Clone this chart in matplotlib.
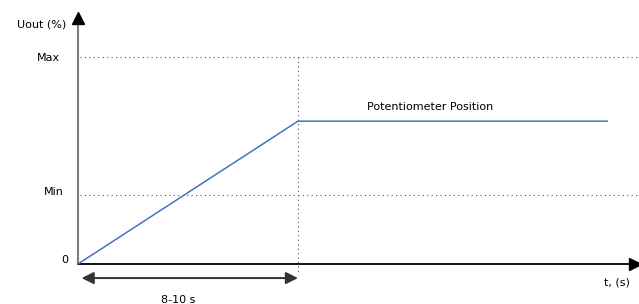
import matplotlib.pyplot as plt

# data (time in s, output in % of Max)
t = [0, 9, 21.65]
u = [0, 69, 69]
u_max = 100
u_min = 33.3
t_ramp = 9
t_end = 22.75
y_top = 110

fig = plt.figure(figsize=(6.39, 3.04), dpi=100)
ax = fig.add_axes([78/639, 40/304, 556/639, 227.7/304])
ax.set_xlim(0, t_end)
ax.set_ylim(0, y_top)
ax.axis('off')

fs = 8
dot = dict(color='#555555', lw=0.8, linestyle=(0, (1, 3)), clip_on=False)

# dotted guides
ax.plot([0.1, 23.1], [u_max, u_max], **dot)
ax.plot([0.1, 23.1], [u_min, u_min], **dot)
ax.plot([t_ramp, t_ramp], [u_max, -5.5], **dot)

# axes with arrow heads
ax.plot([0, 0], [0, 117], color='#7f7f7f', lw=1.5, clip_on=False)
ax.plot([0, 22.5], [0, 0], color='black', lw=1.3, clip_on=False)
ax.plot([0], [118.8], marker='^', color='black', ms=8, clip_on=False)
ax.plot([22.8], [0], marker='>', color='black', ms=8, clip_on=False)

# signal
ax.plot(t, u, color='#4472C4', lw=1.1, clip_on=False)

# ramp duration arrow
ax.annotate('', xy=(0.15, -6.8), xytext=(t_ramp, -6.8),
            arrowprops=dict(arrowstyle='<|-|>', color='#333333', lw=1.4,
                            mutation_scale=18, shrinkA=0, shrinkB=0),
            annotation_clip=False)

# labels
ax.text(-0.75, u_max - 0.5, 'Max', ha='right', va='center', fontsize=fs)
ax.text(-0.6, u_min + 1.3, 'Min', ha='right', va='center', fontsize=fs)
ax.text(-0.4, 1.8, '0', ha='right', va='center', fontsize=fs)
ax.text(-0.5, 115.5, 'Uout (%)', ha='right', va='center', fontsize=fs)
ax.text(14.4, 75.8, 'Potentiometer Position', ha='center', va='center', fontsize=fs)
ax.text(22.05, -8.7, 't, (s)', ha='center', va='center', fontsize=fs)
ax.text(4.1, -17.4, '8-10 s', ha='center', va='center', fontsize=fs)

fig.savefig('out.png', dpi=100)
